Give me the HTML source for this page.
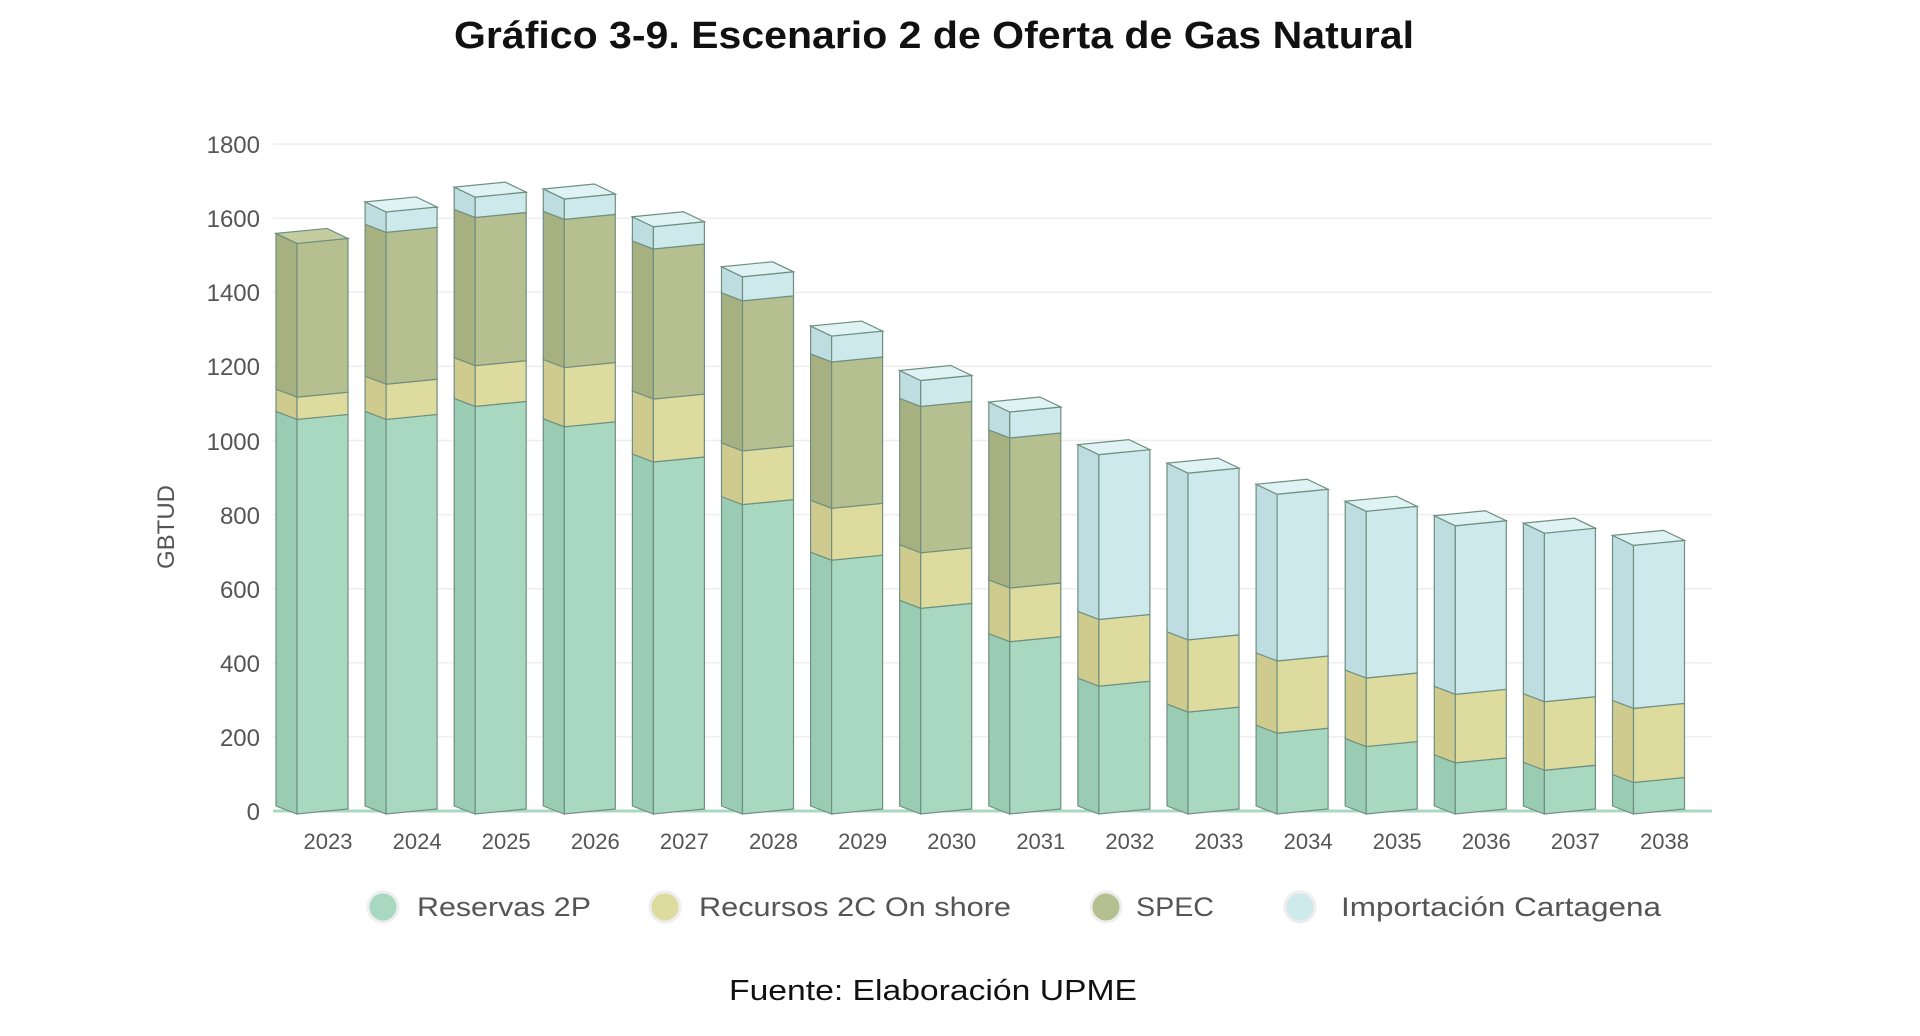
<!DOCTYPE html>
<html><head><meta charset="utf-8"><style>
html,body{margin:0;padding:0;background:#fff;width:1920px;height:1036px;overflow:hidden}
svg{display:block}
text{font-family:"Liberation Sans",sans-serif}
</style></head><body>
<svg id="s" width="1920" height="1036" viewBox="0 0 1920 1036" xmlns="http://www.w3.org/2000/svg">
<text x="934" y="48" text-anchor="middle" font-size="38" font-weight="bold" fill="#111" textLength="960" lengthAdjust="spacingAndGlyphs">Gráfico 3-9. Escenario 2 de Oferta de Gas Natural</text>
<g id="grid"></g>
<g font-size="24" fill="#555" text-anchor="end">
<text x="260" y="820">0</text><text x="260" y="746">200</text><text x="260" y="672">400</text><text x="260" y="598">600</text><text x="260" y="524">800</text><text x="260" y="450">1000</text><text x="260" y="375">1200</text><text x="260" y="301">1400</text><text x="260" y="227">1600</text><text x="260" y="153">1800</text>
</g>
<text transform="translate(174,527) rotate(-90)" text-anchor="middle" font-size="24" fill="#555">GBTUD</text>
<g id="bars"></g>
<g id="yrs" font-size="22" fill="#555" text-anchor="middle"></g>
<g font-size="27" fill="#555">
<circle cx="383" cy="907" r="15" fill="#a8d8c0" stroke="#eee" stroke-width="3"/><text x="417" y="916" textLength="174" lengthAdjust="spacingAndGlyphs">Reservas 2P</text>
<circle cx="665" cy="907" r="15" fill="#dedb9e" stroke="#eee" stroke-width="3"/><text x="699" y="916" textLength="312" lengthAdjust="spacingAndGlyphs">Recursos 2C On shore</text>
<circle cx="1106" cy="907" r="15" fill="#b5bf8f" stroke="#eee" stroke-width="3"/><text x="1136" y="916" textLength="78" lengthAdjust="spacingAndGlyphs">SPEC</text>
<circle cx="1300" cy="907" r="15" fill="#cde9ec" stroke="#eee" stroke-width="3"/><text x="1341" y="916" textLength="320" lengthAdjust="spacingAndGlyphs">Importación Cartagena</text>
</g>
<text x="933" y="1000" text-anchor="middle" font-size="29" fill="#111" textLength="408" lengthAdjust="spacingAndGlyphs">Fuente: Elaboración UPME</text>
</svg>
<script>
var NS="http://www.w3.org/2000/svg";
function el(p,t,a){var e=document.createElementNS(NS,t);for(var k in a)e.setAttribute(k,a[k]);p.appendChild(e);return e;}
var base=811,pp=74.1/200;
function Y(v){return base-v*pp;}
var g=document.getElementById('grid');
for(var i=1;i<=9;i++){el(g,'line',{x1:273,x2:1712,y1:Y(i*200),y2:Y(i*200),stroke:'#eeeeee','stroke-width':1.5});}
el(g,'line',{x1:273,x2:1712,y1:base,y2:base,stroke:'#a8d8c0','stroke-width':3});
var data=[[1065,60,415,0],[1065,95,410,55],[1100,110,400,55],[1045,160,400,55],[950,170,405,60],[835,145,405,65],[685,140,395,70],[555,150,395,70],[465,145,405,70],[345,180,0,445],[275,195,0,450],[218,195,0,450],[182,185,0,450],[138,185,0,455],[118,185,0,455],[85,200,0,440]];
var fc=['#a8d8c0','#dedb9e','#b5bf8f','#cde9ec'],sc=['#9acbb3','#cfcb8e','#a6b080','#bddde1'],tc=['#b8e2ce','#e8e5b0','#c4cca0','#dff2f4'];
var b=document.getElementById('bars'),yr=document.getElementById('yrs');
var W=51,D=21,st='#6f8f80';
data.forEach(function(d,i){
  var fl=297+i*89.1,c=0,top=-1;
  for(var k=0;k<4;k++){ if(d[k]<=0)continue;
    var y0=Y(c),y1=Y(c+d[k]);
    el(b,'polygon',{points:[fl-D,y1-7,fl,y1+3,fl,y0+3,fl-D,y0-5].join(' '),fill:sc[k],stroke:st,'stroke-width':1.2});
    el(b,'polygon',{points:[fl,y1+3,fl+W,y1-2,fl+W,y0-2,fl,y0+3].join(' '),fill:fc[k],stroke:st,'stroke-width':1.2});
    c+=d[k];top=k;
  }
  var yt=Y(c);
  el(b,'polygon',{points:[fl,yt+3,fl+W,yt-2,fl+W-D,yt-12,fl-D,yt-7].join(' '),fill:tc[top],stroke:st,'stroke-width':1.2});
  var t=el(yr,'text',{x:fl+31,y:849});t.textContent=2023+i;
});
</script>
</body></html>
